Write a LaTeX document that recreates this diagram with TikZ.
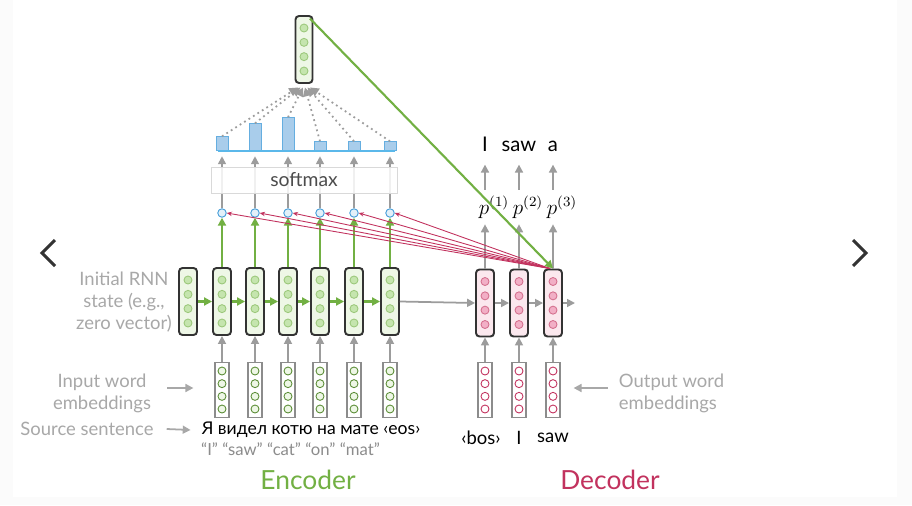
\documentclass[tikz,border=0pt]{standalone}
\usepackage{fontspec}
\setmainfont{Lato}
\usetikzlibrary{positioning,arrows.meta}

\definecolor{encgreen}{HTML}{72B043}
\definecolor{cellgreen}{HTML}{EEF7E6}
\definecolor{dotgreen}{HTML}{C5E5AE}
\definecolor{decred}{HTML}{C2325E}
\definecolor{cellpink}{HTML}{FBE8EE}
\definecolor{dotpink}{HTML}{F2AFC6}
\definecolor{attblue}{HTML}{3E9AD8}
\definecolor{barblue}{HTML}{A9CDEB}
\definecolor{linblue}{HTML}{5BB8EA}
\definecolor{labgray}{HTML}{A8A8A8}
\definecolor{arrgray}{HTML}{9C9C9C}

\tikzset{
  cell/.style={draw=black!80, line width=1.1pt, rounded corners=2pt, minimum width=0.36cm, minimum height=1.34cm, inner sep=0pt},
  enccell/.style={cell, fill=cellgreen},
  deccell/.style={cell, fill=cellpink},
  embbox/.style={draw=black!45, fill=white, line width=0.7pt, minimum width=0.28cm, minimum height=1.1cm, inner sep=0pt},
  unit/.style={circle, inner sep=0pt, minimum size=0.16cm, line width=0.5pt},
  gtip/.style={-{Triangle[length=4.5pt,width=4.5pt]}},
  grayarrow/.style={gtip, arrgray, line width=1pt},
  greenarrow/.style={gtip, encgreen, line width=1.2pt},
  lbl/.style={text=labgray, align=center, font=\fontsize{10.5}{12.5}\selectfont},
  tok/.style={font=\fontsize{10.5}{12}\selectfont},
}

\begin{document}
\begin{tikzpicture}

\useasboundingbox (0,0) rectangle (18.24,-10.10);
\fill[black!1.5] (0,0) rectangle (18.24,-10.10);
\fill[white] (0.26,0.02) rectangle (17.94,-9.94);

% carousel chevrons
\draw[line width=1.7pt, black!80] (1.10,-4.80) -- (0.84,-5.06) -- (1.10,-5.32);
\draw[line width=1.7pt, black!80] (17.06,-4.80) -- (17.32,-5.06) -- (17.06,-5.32);

\coordinate (base) at (0,-3.02);
\coordinate (att) at (0,-4.26);
\coordinate (emb) at (0,-7.80);
\coordinate (plab) at (0,-4.14);
\coordinate (wrd) at (0,-2.94);

% encoder
\foreach \i/\x in {0/3.76,1/4.44,2/5.10,3/5.76,4/6.40,5/7.08,6/7.80} {
  \node[enccell] (e\i) at (\x,-6.03) {};
  \foreach \o in {0.43,0.143,-0.143,-0.43}
    \node[unit, draw=encgreen!70, fill=dotgreen] at ([yshift=\o cm]e\i.center) {};
}
\foreach \i [count=\j from 1] in {0,...,5}
  \draw[greenarrow] (e\i.east) -- (e\j.west);

\foreach \i in {1,...,6} {
  \node[embbox] (x\i) at (e\i |- emb) {};
  \foreach \o in {0.38,0.127,-0.127,-0.38}
    \node[unit, draw=encgreen!80!black, fill=cellgreen] at ([yshift=\o cm]x\i.center) {};
  \draw[grayarrow] (x\i.north) -- (e\i.south);
  \node[unit, minimum size=0.17cm, draw=attblue, fill=attblue!15] (a\i) at (e\i |- att) {};
  \draw[greenarrow] (e\i.north) -- (a\i.south);
}

% attention weights
\foreach \i/\h in {1/0.28,2/0.54,3/0.66,4/0.18,5/0.18,6/0.18} {
  \node[draw=attblue!80, fill=barblue, minimum width=0.24cm, minimum height=\h cm, inner sep=0pt, anchor=south] (b\i) at (e\i |- base) {};
  \draw[grayarrow] (a\i.north) -- ([yshift=-3pt]b\i.south);
}
\draw[linblue, line width=1.2pt] (4.36,-3.02) -- (7.90,-3.02);

\node[draw=black!15, fill=white, fill opacity=0.85, text opacity=1, text=black!70, minimum width=3.72cm, minimum height=0.52cm, font=\fontsize{11}{13}\selectfont] (smax) at (6.08,-3.60) {softmax};

% attention output
\node[enccell, minimum width=0.34cm] (top) at (6.08,-0.99) {};
\foreach \o in {0.43,0.143,-0.143,-0.43}
  \node[unit, draw=encgreen!70, fill=dotgreen] at ([yshift=\o cm]top.center) {};
\foreach \i/\s in {1/-0.12,2/-0.07,3/-0.02,4/0.02,5/0.07,6/0.12}
  \draw[-{Triangle[length=5pt,width=5pt]}, arrgray, line width=1pt, dotted] (b\i.north) -- ([xshift=\s cm,yshift=-2pt]top.south);

% decoder
\foreach \j/\x in {1/9.70,2/10.38,3/11.06} {
  \node[deccell] (d\j) at (\x,-6.06) {};
  \foreach \o in {0.43,0.143,-0.143,-0.43}
    \node[unit, draw=decred!70, fill=dotpink] at ([yshift=\o cm]d\j.center) {};
  \node[embbox] (y\j) at (d\j |- emb) {};
  \foreach \o in {0.38,0.127,-0.127,-0.38}
    \node[unit, draw=decred, fill=white] at ([yshift=\o cm]y\j.center) {};
  \draw[grayarrow] (y\j.north) -- (d\j.south);
  \node[font=\fontsize{11.5}{13}\selectfont, xshift=0.18cm] (p\j) at (d\j |- plab) {$p^{(\j)}$};
  \draw[grayarrow] (d\j.north) -- (d\j.north |- p\j.south);
}
\node[tok] (t1) at ([yshift=-0.96cm,xshift=-0.08cm]y1.center) {\guilsinglleft bos\guilsinglright};
\node[tok] (t2) at ([yshift=-0.96cm]y2.center) {I};
\node[tok] (t3) at ([yshift=-0.96cm]y3.center) {saw};

\foreach \j/\w in {1/I,2/saw,3/a} {
  \node[font=\fontsize{11.5}{13}\selectfont] (w\j) at (d\j |- wrd) {\strut\w};
  \draw[grayarrow] (d\j |- p\j.north) -- (d\j |- w\j.south);
}
\draw[grayarrow] (e6.east) -- (d1.west);
\draw[grayarrow] (d1.east) -- (d2.west);
\draw[grayarrow] (d2.east) -- (d3.west);
\coordinate (dnext) at (11.50,-6.06);
\draw[grayarrow] (d3.east) -- (dnext);

% attention links
\coordinate (dtop) at ([xshift=-0.06cm]d3.north);
\foreach \i in {1,...,6}
  \draw[-{Stealth[length=3pt,width=2.5pt]}, decred, line width=0.5pt] (dtop) -- (a\i.east);
\draw[greenarrow] ([xshift=-2pt,yshift=-2pt]top.north east) -- (d3.north);

% sentences
\node[font=\fontsize{10}{12}\selectfont] (src) at (6.22,-8.60) {Я видел котю на мате \guilsinglleft eos\guilsinglright};
\node[text=black!45, font=\fontsize{9.5}{11}\selectfont] (gloss) at (5.81,-8.98) {“I” “saw” “cat” “on” “mat”};

% side labels
\node[lbl] (initlbl) at (2.48,-6.04) {Initial RNN\\state (e.g.,\\zero vector)};
\node[lbl] (inlbl) at (2.04,-7.86) {Input word\\embeddings};
\node[lbl] (srclbl) at (1.74,-8.58) {Source sentence};
\node[lbl, align=left] (outlbl) at (13.43,-7.86) {Output word\\embeddings};
\draw[grayarrow, labgray] ([xshift=0.2cm,yshift=0.1cm]inlbl.east) -- ([xshift=-0.42cm,yshift=0.1cm]inlbl.east -| x1.west);
\draw[grayarrow, labgray] ([xshift=0.14cm]srclbl.east) -- ([xshift=-0.1cm]src.west);
\draw[grayarrow, labgray] ([xshift=-0.1cm,yshift=0.1cm]outlbl.west) -- ([xshift=0.26cm,yshift=0.1cm]outlbl.west -| y3.east);

\node[text=encgreen, font=\fontsize{15}{18}\selectfont] (enc) at (6.16,-9.60) {Encoder};
\node[text=decred, font=\fontsize{15}{18}\selectfont] (dec) at (12.20,-9.60) {Decoder};

\end{tikzpicture}
\end{document}
